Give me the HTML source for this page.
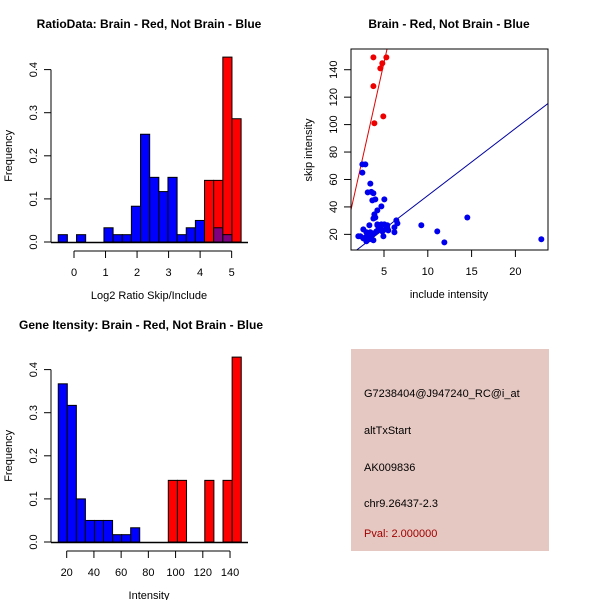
<!DOCTYPE html>
<html><head><meta charset="utf-8"><style>
body{margin:0;background:#fff}
svg{display:block;font-family:"Liberation Sans",Arial,sans-serif}
</style></head><body>
<svg id="c" width="600" height="600" viewBox="0 0 600 600">
<rect width="600" height="600" fill="#fff"/>
<g id="p1"></g>
<g id="p2"></g>
<g id="p3"></g>
<g id="p4">
<rect x="351" y="349" width="198" height="202" fill="#e6c8c2"/>
<text x="364" y="397" font-size="11" fill="#000">G7238404@J947240_RC@i_at</text>
<text x="364" y="434" font-size="11" fill="#000">altTxStart</text>
<text x="364" y="471" font-size="11" fill="#000">AK009836</text>
<text x="364" y="507" font-size="11" fill="#000">chr9.26437-2.3</text>
<text x="364" y="537" font-size="11" fill="#a00000">Pval: 2.000000</text>
</g>
</svg>
<script>
// ---- Panel 1 data ----
const ratioBreaks = [-0.5,-0.21,0.08,0.37,0.66,0.95,1.24,1.53,1.82,2.11,2.40,2.69,2.98,3.27,3.56,3.85,4.14,4.43,4.72,5.01,5.30];
const ratioBlue = [0.017,0,0.017,0,0,0.033,0.017,0.017,0.083,0.25,0.15,0.117,0.15,0.017,0.033,0.05,0,0.033,0.017,0];
const ratioRed = [0,0,0,0,0,0,0,0,0,0,0,0,0,0,0,0,0.143,0.143,0.429,0.286];
const ratioXTicks = [0,1,2,3,4,5];
const freqTicks = [0,0.1,0.2,0.3,0.4];
const freqTickLabels = ["0.0","0.1","0.2","0.3","0.4"];
// ---- Panel 2 data ----
const redIncl = [3.79,5.27,4.81,4.58,3.79,3.9,4.92];
const redSkip = [149,149,144.7,141,128,101,106];
const blueIncl = [2.53,2.87,2.53,3.44,3.14,3.55,3.79,3.67,4.01,5.04,4.7,4.24,3.9,3.79,4.01,3.33,4.24,4.7,5.04,5.38,6.41,6.53,6.19,6.19,9.26,11.08,11.89,14.51,22.96,4.93,2.07,2.3,2.64,2.64,2.99,3.1,2.99,3.33,3.56,3.79,3.9,4.13,4.36,4.58,4.81,5.15,5.49,5.38,4.24,2.87,3.44];
const blueSkip = [71,71,65,57,50.6,51,50,44.8,45.5,45.5,40.4,37.5,34.6,31.6,32.3,26.6,26.6,27.3,27.3,26.6,30.2,28,25.1,21.5,26.6,22.2,14.2,32.3,16.4,18.6,18.6,18.6,17.1,23.6,21.5,19.3,15,16.4,19.3,15.7,20.8,22.2,23.6,24.4,22.2,23.6,22.9,24.4,27.3,17.8,21.5];
const redFit = [2.7,28.5];   // intercept, slope
const blueFit = [-0.6,4.89];
const scatterXTicks = [5,10,15,20];
const scatterYTicks = [20,40,60,80,100,120,140];
// ---- Panel 3 data ----
const intBlueBreaks = [13.8,20.45,27.1,33.75,40.4,47.05,53.7,60.35,67.0,73.65];
const intBlue = [0.367,0.317,0.1,0.05,0.05,0.05,0.017,0.017,0.033];
const intRedBreaks = [94.65,101.35,108.05,114.75,121.45,128.15,134.85,141.55,148.25];
const intRed = [0.143,0.143,0,0,0.143,0,0.143,0.429];
const intXTicks = [20,40,60,80,100,120,140];

const NS="http://www.w3.org/2000/svg";
function mk(parent,tag,attrs,txt){const e=document.createElementNS(NS,tag);for(const k in attrs)e.setAttribute(k,attrs[k]);if(txt!==undefined)e.textContent=txt;parent.appendChild(e);return e;}

function histPanel(g,o){
  const X=v=>o.x0+(v-o.xv0)*o.xs, Y=v=>o.y0-v*o.ys;
  for(let i=0;i<o.blue.length;i++){ if(o.blue[i]<=0)continue;
    const r=mk(g,'rect',{x:X(o.bBreaks[i]),y:Y(o.blue[i]),width:X(o.bBreaks[i+1])-X(o.bBreaks[i]),height:o.y0-Y(o.blue[i]),fill:'#0000ff',stroke:'#000','stroke-width':1});
    
    
  }
  for(let i=0;i<o.red.length;i++){ if(o.red[i]<=0)continue;
    const r=mk(g,'rect',{x:X(o.rBreaks[i]),y:Y(o.red[i]),width:X(o.rBreaks[i+1])-X(o.rBreaks[i]),height:o.y0-Y(o.red[i]),fill:'#ff0000',stroke:'#000','stroke-width':1});
    
    
    if(o.overlap){const b=o.blue[i]||0; if(b>0){const ov=Math.min(b,o.red[i]);
      const p=mk(g,'rect',{x:X(o.rBreaks[i]),y:Y(ov),width:X(o.rBreaks[i+1])-X(o.rBreaks[i]),height:o.y0-Y(ov),fill:'#800080',stroke:'#000','stroke-width':1});
      
      }}
  }
  mk(g,'line',{x1:51,x2:248,y1:o.y0+0.5,y2:o.y0+0.5,stroke:'#000','stroke-width':1.5});
  const ya=mk(g,'g',{});
  
  
  mk(ya,'line',{x1:51,x2:51,y1:Y(0),y2:Y(0.4),stroke:'#000'});
  freqTicks.forEach((t,i)=>{mk(ya,'line',{x1:44,x2:51,y1:Y(t),y2:Y(t),stroke:'#000'});
    const tx=mk(ya,'text',{x:37,y:Y(t),'font-size':11,'text-anchor':'middle',transform:`rotate(-90 37 ${Y(t)})`},freqTickLabels[i]);
    
    });
  const yl=mk(g,'text',{x:12,y:(Y(0)+Y(0.4))/2,'font-size':11,'text-anchor':'middle',transform:`rotate(-90 12 ${(Y(0)+Y(0.4))/2})`},'Frequency');
  
  
  const xa=mk(g,'g',{});
  
  
  const ay=o.y0+9;
  mk(xa,'line',{x1:X(o.ticks[0]),x2:X(o.ticks[o.ticks.length-1]),y1:ay,y2:ay,stroke:'#000'});
  o.ticks.forEach(t=>{mk(xa,'line',{x1:X(t),x2:X(t),y1:ay,y2:ay+7,stroke:'#000'});
    const tx=mk(xa,'text',{x:X(t),y:ay+25,'font-size':11,'text-anchor':'middle'},String(t));
    
    });
  const xl=mk(g,'text',{x:149,y:o.y0+57,'font-size':11,'text-anchor':'middle'},o.xlabel);
  
  
  const ti=mk(g,'text',{x:o.tx,y:o.ty,'font-size':12,'font-weight':'bold','text-anchor':'middle'},o.title);
  
  
}

histPanel(document.getElementById('p1'),{x0:74,xv0:0,xs:31.53,y0:242,ys:431,bBreaks:ratioBreaks,rBreaks:ratioBreaks,blue:ratioBlue,red:ratioRed,overlap:true,ticks:ratioXTicks,xlabel:'Log2 Ratio Skip/Include',title:'RatioData: Brain - Red, Not Brain - Blue',tx:149,ty:28});
histPanel(document.getElementById('p3'),{x0:66.7,xv0:20,xs:1.361,y0:542,ys:431,bBreaks:intBlueBreaks,rBreaks:intRedBreaks,blue:intBlue,red:intRed,overlap:false,ticks:intXTicks,xlabel:'Intensity',title:'Gene Itensity: Brain - Red, Not Brain - Blue',tx:141,ty:329});

(function(){
  const g=document.getElementById('p2');
  const L=351,R=548,T=49,B=250;
  const X=v=>340.2+v*8.76, Y=v=>261.8-v*1.372;
  const cp=mk(g,'clipPath',{id:'clipS'}); mk(cp,'rect',{x:L,y:T,width:R-L,height:B-T});
  const lines=mk(g,'g',{'clip-path':'url(#clipS)'});
  [[redFit,'#e00000','red-fit-line'],[blueFit,'#0000a0','blue-fit-line']].forEach(([f,c,n])=>{
    const l=mk(lines,'line',{x1:X(0),y1:Y(f[0]),x2:X(25),y2:Y(f[0]+f[1]*25),stroke:c,'stroke-width':1});
    
    
  });
  for(let i=0;i<blueIncl.length;i++){const p=mk(g,'circle',{cx:X(blueIncl[i]),cy:Y(blueSkip[i]),r:3,fill:'#0000ee'});
    
    }
  for(let i=0;i<redIncl.length;i++){const p=mk(g,'circle',{cx:X(redIncl[i]),cy:Y(redSkip[i]),r:3,fill:'#ee0000'});
    
    }
  const bx=mk(g,'rect',{x:L,y:T,width:R-L,height:B-T,fill:'none',stroke:'#000','stroke-width':1});
  
  
  scatterXTicks.forEach(t=>{mk(g,'line',{x1:X(t),x2:X(t),y1:B,y2:B+7,stroke:'#000'});
    const tx=mk(g,'text',{x:X(t),y:B+25,'font-size':11,'text-anchor':'middle'},String(t));
    
    });
  scatterYTicks.forEach(t=>{mk(g,'line',{x1:L-7,x2:L,y1:Y(t),y2:Y(t),stroke:'#000'});
    const tx=mk(g,'text',{x:337,y:Y(t),'font-size':11,'text-anchor':'middle',transform:`rotate(-90 337 ${Y(t)})`},String(t));
    
    });
  const xl=mk(g,'text',{x:449,y:298,'font-size':11,'text-anchor':'middle'},'include intensity');
  
  
  const yl=mk(g,'text',{x:312,y:150,'font-size':11,'text-anchor':'middle',transform:'rotate(-90 312 150)'},'skip intensity');
  
  
  const ti=mk(g,'text',{x:449,y:28,'font-size':12,'font-weight':'bold','text-anchor':'middle'},'Brain - Red, Not Brain - Blue');
  
  
})();
</script>
</body></html>
